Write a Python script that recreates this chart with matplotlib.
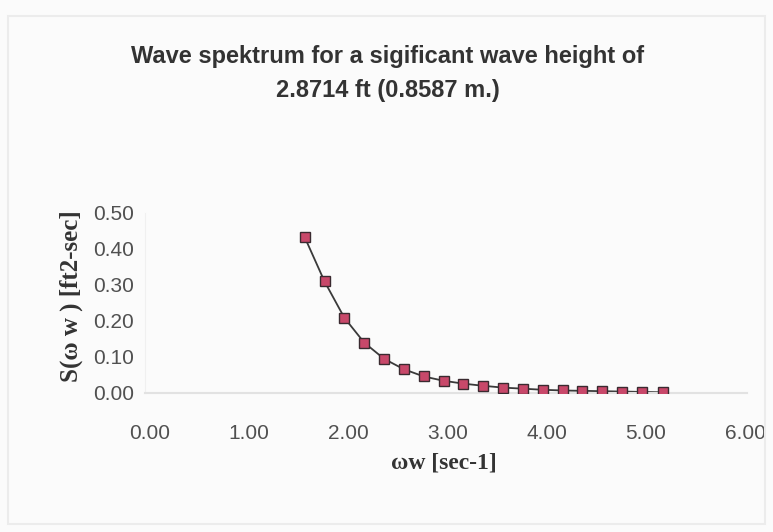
import matplotlib
matplotlib.use('Agg')
import matplotlib.pyplot as plt

# wave frequency [sec-1] and spectral density [ft2-sec]
omega = [1.56, 1.76, 1.96, 2.16, 2.36, 2.56, 2.76, 2.96, 3.16, 3.36,
         3.56, 3.76, 3.96, 4.16, 4.36, 4.56, 4.76, 4.96, 5.17]
spectrum = [0.433, 0.310, 0.209, 0.140, 0.095, 0.066, 0.046, 0.034, 0.026, 0.020,
            0.015, 0.012, 0.009, 0.007, 0.006, 0.005, 0.004, 0.003, 0.002]
xticks = [0, 1, 2, 3, 4, 5, 6]
yticks = [0.0, 0.1, 0.2, 0.3, 0.4, 0.5]

sans = ['Liberation Sans', 'DejaVu Sans']
serif = ['Liberation Serif', 'DejaVu Serif']

fig = plt.figure(figsize=(7.73, 5.32), dpi=100)
fig.patch.set_facecolor('#fbfbfb')
ax = fig.add_axes([145 / 773, 1 - 393 / 532, (747 - 145) / 773, (393 - 213) / 532])
ax.set_facecolor('#fbfbfb')

ax.plot(omega, spectrum, color='#3a3a3a', lw=1.3, zorder=2)
ax.plot(omega, spectrum, ls='none', marker='s', ms=6.5, mfc='#c8486a',
        mec='#3a2a30', mew=1.0, zorder=3)

ax.set_xlim(-0.05, 6.02)
ax.set_ylim(0, 0.5)
ax.set_xticks(xticks)
ax.set_xticklabels(['%.2f' % v for v in xticks])
ax.set_yticks(yticks)
ax.set_yticklabels(['%.2f' % v for v in yticks])
for lab in ax.get_xticklabels() + ax.get_yticklabels():
    lab.set_family(sans)
    lab.set_fontsize(15)
    lab.set_color('#505050')
ax.tick_params(length=0)
ax.tick_params(axis='x', pad=22)
ax.tick_params(axis='y', pad=8)

for s in ['top', 'right']:
    ax.spines[s].set_visible(False)
ax.spines['bottom'].set_color('#e2e2e2')
ax.spines['left'].set_color('#f0f0f0')
ax.spines['bottom'].set_linewidth(1.5)

fig.text(388 / 773, 1 - 57 / 532, 'Wave spektrum for a sigificant wave height of',
         ha='center', va='center', fontsize=17, fontweight='bold',
         family=sans, color='#333333')
fig.text(388 / 773, 1 - 91 / 532, '2.8714 ft (0.8587 m.)',
         ha='center', va='center', fontsize=17, fontweight='bold',
         family=sans, color='#333333')

fig.text(71 / 773, 1 - 296 / 532, 'S(\u03c9 w ) [ft2-sec]', rotation=90,
         ha='center', va='center', fontsize=18, fontweight='bold',
         family=serif, color='#333333')
fig.text(444 / 773, 1 - 463 / 532, '\u03c9w [sec-1]',
         ha='center', va='center', fontsize=17, fontweight='bold',
         family=serif, color='#333333')

# faint chart-area border
border = plt.Rectangle((8 / 773, 8 / 532), 1 - 16 / 773, 1 - 24 / 532,
                       transform=fig.transFigure, fill=False,
                       ec='#ececec', lw=1.5)
fig.add_artist(border)

fig.savefig('out.png', dpi=100, facecolor=fig.get_facecolor())
